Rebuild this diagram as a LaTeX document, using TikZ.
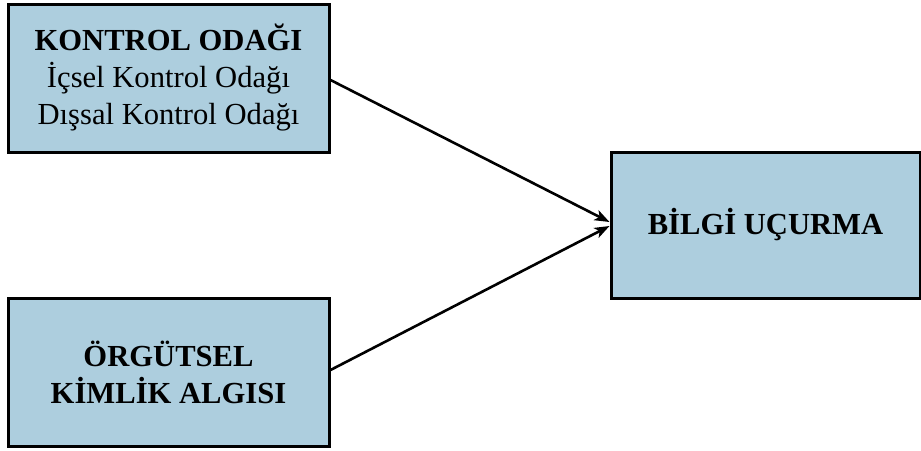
\documentclass[tikz,border=0pt]{standalone}
\usepackage{fontspec}
\setmainfont{Liberation Serif}
\usetikzlibrary{
  positioning,
  arrows.meta
}
\definecolor{boxblue}{RGB}{173,206,222}

\begin{document}
\begin{tikzpicture}[x=0.5pt, y=-0.5pt,
    kutu/.style = {rectangle, draw, fill=boxblue, line width=1.5pt, align=center,
                   minimum width=160.5pt, minimum height=74pt, inner sep=2pt,
                   font=\fontsize{15.3}{18.5}\selectfont},
    ok/.style = {-{Stealth[length=7.5pt, width=5.5pt, inset=2pt]}, line width=1.3pt}]
    \useasboundingbox (0,0) rectangle (921,450);

    \node[kutu] (kontrol) at (168.5,78) {\textbf{KONTROL ODAĞI}\\İçsel Kontrol Odağı\\Dışsal Kontrol Odağı};
    \node[kutu] (kimlik) at (168.5,372) {\textbf{ÖRGÜTSEL}\\\textbf{KİMLİK ALGISI}};
    \node[kutu, minimum width=154.5pt, minimum height=73pt] (bilgi) at (765.5,225) {\textbf{BİLGİ UÇURMA}};

    \draw[ok] ([yshift=-1pt]kontrol.east) -- ([yshift=1.5pt]bilgi.west);
    \draw[ok] ([yshift=1pt]kimlik.east) -- ([yshift=-0.5pt]bilgi.west);
\end{tikzpicture}
\end{document}
